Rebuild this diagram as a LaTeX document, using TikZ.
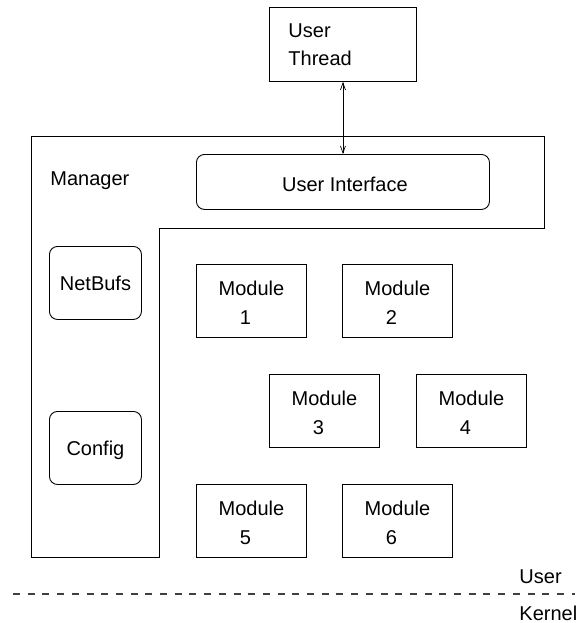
\documentclass[tikz,border=0pt]{standalone}
\usepackage{fontspec}
\setmainfont{Liberation Sans}
\usetikzlibrary{arrows.meta,calc}

\begin{document}
\begin{tikzpicture}[x=1pt,y=-1pt,
  line width=0.9pt,
  lbl/.style={inner sep=0pt,font=\fontsize{20}{24}\selectfont},
  sqbox/.style={draw,inner sep=0pt,anchor=north west},
  rbox/.style={draw,inner sep=0pt,anchor=north west,rounded corners=8pt},
  modbox/.style={sqbox,minimum width=110pt,minimum height=73pt},
  link/.style={{Straight Barb[length=7pt,width=5pt]}-{Straight Barb[length=7pt,width=5pt]},line width=0.7pt}]
\useasboundingbox (0,0) rectangle (581,623);

% user thread
\node[sqbox,minimum width=147pt,minimum height=74pt] (ut) at (269,7) {};
\node[lbl,anchor=base west] (utA) at (288,38) {User};
\node[lbl,anchor=base west] (utB) at (288,66) {Thread};

% manager outline
\draw (31,136) -- (544,136) -- (544,228) -- (159,228) -- (159,557) -- (31,557) -- cycle;
\node[lbl,anchor=base west] (mgr) at (50,185) {Manager};

% user interface
\node[rbox,minimum width=293pt,minimum height=55pt] (ui) at (196,154) {};
\node[lbl,anchor=base] (uiT) at ($(ui.north)+(2,37)$) {User Interface};

% netbufs and config
\node[rbox,minimum width=92pt,minimum height=73pt] (nb) at (49,246) {};
\node[lbl,anchor=base] (nbT) at ($(nb.north)+(0,44)$) {NetBufs};
\node[rbox,minimum width=92pt,minimum height=73pt] (cf) at (49,411) {};
\node[lbl,anchor=base] (cfT) at ($(cf.north)+(0,44)$) {Config};

% modules
\foreach \i/\x/\y in {1/196/264,2/342/264,3/269/374,4/416/374,5/196/484,6/342/484}{
  \node[modbox] (m\i) at (\x,\y) {};
  \node[lbl,anchor=base] (m\i t) at ($(m\i.north)+(0,31)$) {Module};
  \node[lbl,anchor=base] (m\i n) at ($(m\i.north)+(-6,60)$) {\i};
}

% connector
\draw[link] (ut.south) -- (ui.north);

% user / kernel boundary
\coordinate (bl) at (13,594);
\coordinate (br) at (575,594);
\draw[dash pattern=on 7pt off 7.7pt,line width=1.1pt,black!75] (bl) -- (br);
\node[lbl,anchor=base west] (usr) at (519,583) {User};
\node[lbl,anchor=base west] (krn) at (519,620) {Kernel};
\end{tikzpicture}
\end{document}
